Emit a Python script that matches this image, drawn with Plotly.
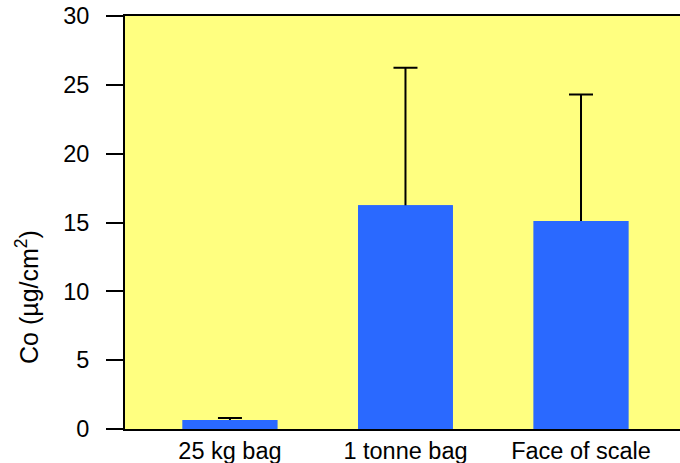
import plotly.graph_objects as go

categories = ["25 kg bag", "1 tonne bag", "Face of scale"]
values = [0.65, 16.25, 15.1]
errors = [0.15, 10.0, 9.2]
y_ticks = [0, 5, 10, 15, 20, 25, 30]

W, H = 680, 463
L, R, T, B = 125, 0, 16, 34
font_family = "Liberation Sans, Arial, sans-serif"
FS = 23.5
BAR_COLOR = "#2A69FF"
HIDDEN_LOWER = [0.3, 0.3, 0.3]  # lower cap tucked inside the bar, then covered

fig = go.Figure()
fig.add_trace(go.Bar(
    x=categories, y=values, width=0.54,
    marker=dict(color=BAR_COLOR, line=dict(width=0)),
    error_y=dict(type="data", array=errors, symmetric=False, arrayminus=HIDDEN_LOWER,
                 color="black", thickness=2, width=12),
    hoverinfo="skip",
))
fig.add_trace(go.Bar(
    x=categories, y=values, width=0.54,
    marker=dict(color=BAR_COLOR, line=dict(width=0)),
))

fig.update_layout(
    width=W, height=H,
    margin=dict(l=L, r=R, t=T, b=B),
    paper_bgcolor="white",
    plot_bgcolor="#FFFF80",
    font=dict(family=font_family, size=FS, color="black"),
    showlegend=False,
    barmode="overlay",
)

fig.update_xaxes(
    type="category",
    range=[-0.598, 2.564],
    showline=True, linecolor="black", linewidth=2, mirror=True,
    ticks="", showgrid=False, automargin=False,
    ticklabeloverflow="allow",
    tickfont=dict(size=FS),
)

fig.update_yaxes(
    range=[0, 30],
    tickvals=y_ticks,
    showline=True, linecolor="black", linewidth=2,
    ticks="outside", ticklen=17, tickwidth=2, tickcolor="black",
    ticklabelstandoff=12,
    showgrid=False, zeroline=False, automargin=False,
    ticklabeloverflow="allow",
    tickfont=dict(size=FS),
)

fig.add_annotation(
    text="Co (µg/cm<sup>2</sup>)",
    xref="paper", yref="paper",
    x=(27 - L) / (W - L - R), y=(H - B - 297) / (H - T - B),
    xanchor="center", yanchor="middle",
    textangle=-90, showarrow=False,
    font=dict(size=25),
)

fig.write_html(
    "out.html",
    config={"displayModeBar": False},
    post_script="document.body.style.margin='0';document.body.style.overflow='hidden';",
)
